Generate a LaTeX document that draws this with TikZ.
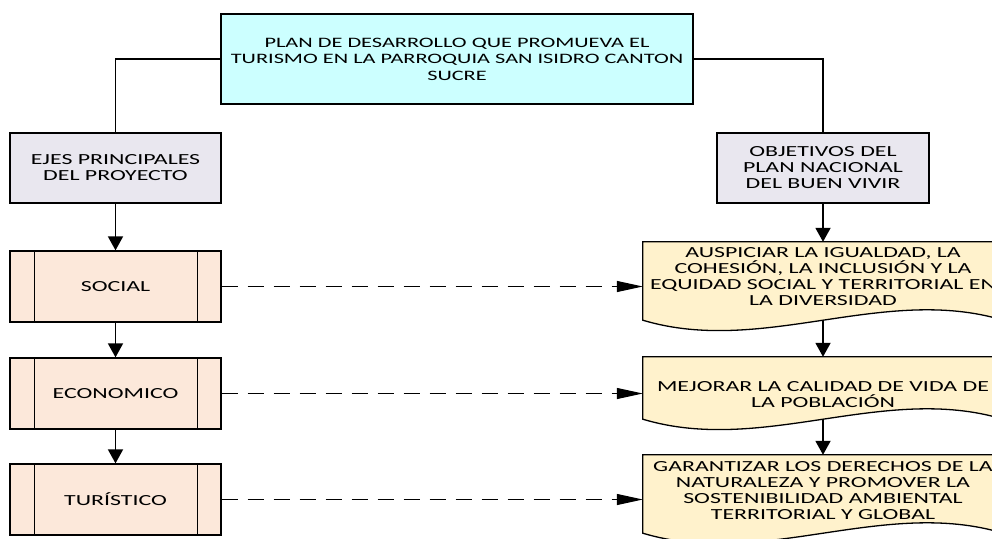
\documentclass[tikz,border=0pt]{standalone}
\usepackage{fontspec}
\setmainfont{Carlito}[FakeStretch=1.55]
\usetikzlibrary{arrows.meta,calc}
\definecolor{topfill}{HTML}{CCFFFF}
\definecolor{headfill}{HTML}{E9E7EF}
\definecolor{procfill}{HTML}{FCE8DA}
\definecolor{docfill}{HTML}{FFF2CC}
\newcommand{\dfont}{\fontsize{15.4}{16}\selectfont}
\newcommand{\tfont}{\fontsize{14.4}{16.5}\selectfont}
\begin{document}
\begin{tikzpicture}[x=1pt,y=-1pt,
  box/.style={draw=black, line width=1.3pt, align=center, font=\dfont, inner sep=0pt},
  topbox/.style={box, font=\tfont, fill=topfill, minimum width=472pt, minimum height=90pt},
  headbox/.style={box, fill=headfill, minimum width=211pt, minimum height=70pt},
  procbox/.style={box, fill=procfill, minimum width=211pt, minimum height=71pt},
  docframe/.style={draw=none, inner sep=0pt, minimum width=360pt},
  doctext/.style={align=center, font=\dfont, inner sep=0pt},
  docline/.style={draw=black, line width=1.3pt, fill=docfill},
  conn/.style={line width=1.8pt},
  arr/.style={conn, -{Triangle[length=14pt,width=15pt]}},
  darr/.style={line width=1.1pt, dash pattern=on 16pt off 10pt, -{Triangle[length=26pt,width=11pt]}}
]
\path[use as bounding box, clip] (0,0) rectangle (992,538);
\fill[white] (0,0) rectangle (992,538);

% left column
\node[topbox] (top) at (457,59) {PLAN DE DESARROLLO QUE PROMUEVA EL\\TURISMO EN LA PARROQUIA SAN ISIDRO CANTON\\SUCRE};
\node[headbox] (ejes) at (115.5,168) {EJES PRINCIPALES\\DEL PROYECTO};
\node[headbox, minimum width=212pt] (obj) at (823,168) {OBJETIVOS DEL\\PLAN NACIONAL\\DEL BUEN VIVIR};
\node[procbox] (social) at (115.5,286.5) {SOCIAL};
\node[procbox] (econ) at (115.5,393.5) {ECONOMICO};
\node[procbox] (tur) at (115.5,499.5) {TURÍSTICO};
\foreach \n in {social,econ,tur}{
  \draw[line width=1.3pt] ($(\n.north west)+(25,0)$) -- ($(\n.south west)+(25,0)$);
  \draw[line width=1.3pt] ($(\n.north east)+(-24,0)$) -- ($(\n.south east)+(-24,0)$);
}

% document shapes
\node[docframe, minimum height=78pt] (doc1) at (823,281) {};
\node[docframe, minimum height=62pt] (doc2) at (823,388) {};
\node[docframe, minimum height=78pt] (doc3) at (823,494) {};
\foreach \d in {doc1,doc2,doc3}{
  \draw[docline] (\d.north west) -- (\d.south west)
    .. controls ($(\d.south west)+(120,36)$) and ($(\d.south east)+(-120,-36)$) .. (\d.south east)
    -- (\d.north east) -- cycle;
}
\node[doctext] (doc1t) at (823,277) {AUSPICIAR LA IGUALDAD, LA\\COHESIÓN, LA INCLUSIÓN Y LA\\EQUIDAD SOCIAL Y TERRITORIAL EN\\LA DIVERSIDAD};
\node[doctext] (doc2t) at (823,395) {MEJORAR LA CALIDAD DE VIDA DE\\LA POBLACIÓN};
\node[doctext] (doc3t) at (823,490.5) {GARANTIZAR LOS DERECHOS DE LA\\NATURALEZA Y PROMOVER LA\\SOSTENIBILIDAD AMBIENTAL\\TERRITORIAL Y GLOBAL};

% connectors
\draw[conn] (top.west) -| (ejes.north);
\draw[conn] (top.east) -| (obj.north);
\draw[arr] (ejes.south) -- (social.north);
\draw[arr] (social.south) -- (econ.north);
\draw[arr] (econ.south) -- (tur.north);
\draw[arr] (obj.south) -- (doc1.north);
\draw[arr] (doc1.south) -- (doc2.north);
\draw[arr] (doc2.south) -- (doc3.north);
\draw[darr] (social.east) -- (social.east -| doc1.west);
\draw[darr] (econ.east) -- (econ.east -| doc2.west);
\draw[darr] (tur.east) -- (tur.east -| doc3.west);
\end{tikzpicture}
\end{document}
